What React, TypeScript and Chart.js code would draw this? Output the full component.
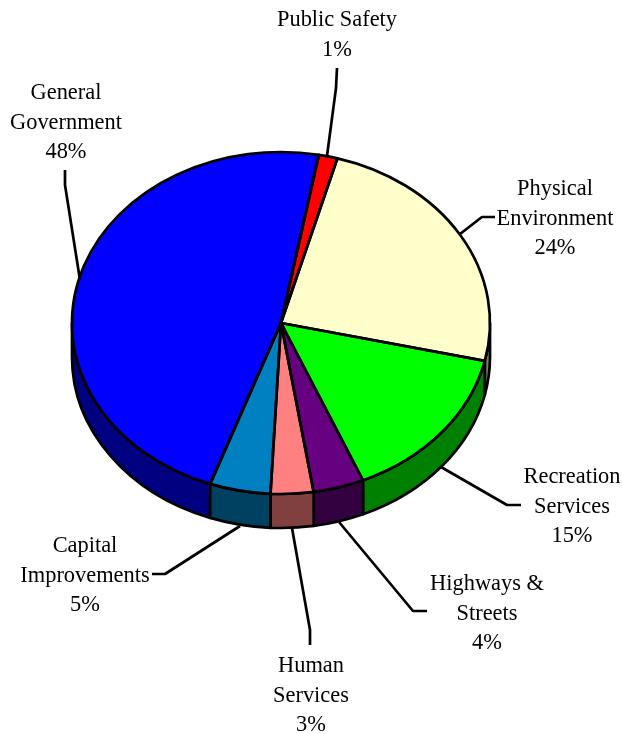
import React, { useEffect, useRef } from "react";
import { Chart, registerables } from "chart.js";

Chart.register(...registerables);

const categories = [
  "General Government",
  "Public Safety",
  "Physical Environment",
  "Recreation Services",
  "Highways & Streets",
  "Human Services",
  "Capital Improvements",
];
const sliceShares = [47.4, 1.45, 24.2, 15.03, 3.92, 3.3, 4.7];
const percentLabels = ["48%", "1%", "24%", "15%", "4%", "3%", "5%"];
const topColors = ["#0000FF", "#FF0000", "#FFFFCC", "#00FF00", "#660080", "#FF8080", "#0080C0"];
const sideColors = ["#000080", "#800000", "#808066", "#008000", "#330040", "#804040", "#004060"];

const labelLines = [
  ["General", "Government"],
  ["Public Safety"],
  ["Physical", "Environment"],
  ["Recreation", "Services"],
  ["Highways &", "Streets"],
  ["Human", "Services"],
  ["Capital", "Improvements"],
];
const labelAnchors = [
  [66, 99],
  [337, 26],
  [555, 195],
  [572, 483],
  [487, 590],
  [311, 672],
  [85, 552],
];
const leaders = [
  [[65, 170], [65, 185], [80, 280]],
  [[337, 68], [336, 88], [327, 156]],
  [[495, 217], [482, 217], [460, 234]],
  [[521, 505], [507, 505], [441, 467]],
  [[427, 611], [413, 611], [339, 522]],
  [[310, 645], [310, 630], [292, 528]],
  [[152, 574], [165, 574], [240, 526]],
];

const START_ANGLE = 199.8;
const Y_SQUASH = 171 / 209;
const DEPTH = 34;
const LINE_HEIGHT = 29.5;
const OUTLINE = 2.7;

const pie3d = {
  id: "pie3d",
  beforeDatasetsDraw(chart: any) {
    const ctx = chart.ctx;
    const arcs = chart.getDatasetMeta(0).data;
    const TAU = Math.PI * 2;
    arcs.forEach((arc: any, i: number) => {
      const ry = arc.outerRadius * Y_SQUASH;
      for (let k = -1; k <= 1; k++) {
        const a = Math.max(arc.startAngle + k * TAU, 0);
        const b = Math.min(arc.endAngle + k * TAU, Math.PI);
        if (b <= a) continue;
        ctx.beginPath();
        ctx.ellipse(arc.x, arc.y, arc.outerRadius, ry, 0, a, b);
        ctx.ellipse(arc.x, arc.y + DEPTH, arc.outerRadius, ry, 0, b, a, true);
        ctx.closePath();
        ctx.fillStyle = sideColors[i];
        ctx.fill();
        ctx.lineWidth = OUTLINE;
        ctx.lineJoin = "round";
        ctx.strokeStyle = "#000";
        ctx.stroke();
      }
    });
    const first = arcs[0];
    ctx.save();
    ctx.translate(first.x, first.y);
    ctx.scale(1, Y_SQUASH);
    ctx.translate(-first.x, -first.y);
  },
  afterDatasetsDraw(chart: any) {
    const ctx = chart.ctx;
    ctx.restore();
    const arcs = chart.getDatasetMeta(0).data;
    ctx.strokeStyle = "#000";
    ctx.lineWidth = OUTLINE;
    ctx.lineJoin = "round";
    arcs.forEach((arc: any) => {
      ctx.beginPath();
      ctx.moveTo(arc.x, arc.y);
      ctx.ellipse(arc.x, arc.y, arc.outerRadius, arc.outerRadius * Y_SQUASH, 0, arc.startAngle, arc.endAngle);
      ctx.closePath();
      ctx.stroke();
    });
    leaders.forEach((pts) => {
      ctx.beginPath();
      pts.forEach(([x, y], j) => (j ? ctx.lineTo(x, y) : ctx.moveTo(x, y)));
      ctx.stroke();
    });
    ctx.fillStyle = "#000";
    ctx.font = '22.4px "Liberation Serif"';
    ctx.textAlign = "center";
    ctx.textBaseline = "alphabetic";
    categories.forEach((_, i) => {
      const [x, y] = labelAnchors[i];
      [...labelLines[i], percentLabels[i]].forEach((line, j) => {
        ctx.fillText(line, x, y + j * LINE_HEIGHT);
      });
    });
  },
};

export default function App() {
  const ref = useRef<HTMLCanvasElement>(null);
  useEffect(() => {
    const chart = new Chart(ref.current!, {
      type: "pie",
      data: {
        labels: categories,
        datasets: [{ data: sliceShares, backgroundColor: topColors, borderWidth: 0 }],
      },
      options: {
        animation: false,
        responsive: false,
        rotation: START_ANGLE,
        layout: { padding: { left: 72, right: 132, top: 114, bottom: 202 } },
        plugins: { legend: { display: false }, tooltip: { enabled: false } },
      },
      plugins: [pie3d],
    } as any);
    return () => chart.destroy();
  }, []);
  return (
    <div style={{ position: "absolute", left: 0, top: 0, width: 622, height: 734 }}>
      <canvas ref={ref} width={622} height={734} style={{ display: "block" }} />
    </div>
  );
}
